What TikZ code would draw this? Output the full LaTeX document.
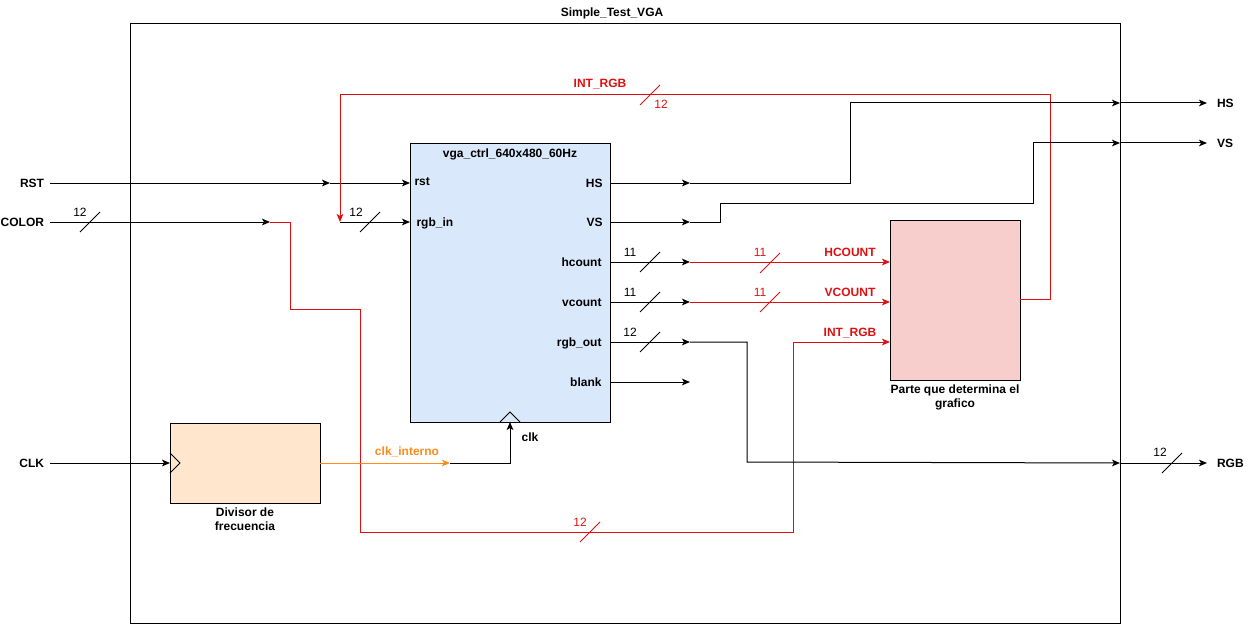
\documentclass[tikz,border=0pt]{standalone}
\usepackage{fontspec}
\setmainfont{Liberation Sans}
\usetikzlibrary{arrows.meta}
\definecolor{wred}{HTML}{E01010}
\definecolor{worange}{HTML}{FF8C1A}
\definecolor{vgafill}{HTML}{DAE8FC}
\definecolor{divfill}{HTML}{FFE6CC}
\definecolor{partefill}{HTML}{F8CECC}
\newcommand\busmark[2][black]{\draw[#1] (#2) ++(-10,10) -- ++(20,-20);}
\begin{document}
\begin{tikzpicture}[x=0.75pt,y=-0.75pt,line width=0.75pt,
  font=\fontsize{9}{10.5}\selectfont,
  blk/.style={draw, inner sep=0pt, anchor=north west},
  lbl/.style={font=\fontsize{9}{10.5}\selectfont\bfseries, inner sep=0pt, text height=6.5pt, text depth=0pt},
  num/.style={inner sep=0pt, text height=6.5pt, text depth=0pt},
  arr/.style={-{Stealth[length=6pt,width=5pt,inset=1.5pt]}},
  rarr/.style={arr, draw=wred, color=wred},
  oarr/.style={arr, draw=worange, color=worange},
  rline/.style={draw=wred}]
\useasboundingbox (0,0) rectangle (1251,624);

% frame
\node[blk, minimum width=742.5pt, minimum height=450pt] (frame) at (130,23) {};
\node[lbl] (title) at (612,12) {Simple\_Test\_VGA};

% vga block
\node[blk, fill=vgafill, minimum width=150pt, minimum height=209.25pt] (vga) at (410,143) {};
\node[lbl] (vgatitle) at (510,153) {vga\_ctrl\_640x480\_60Hz};
\draw (500,422) -- (510,412) -- (520,422);
\node[lbl, anchor=west] at (414,181) {rst};
\node[lbl, anchor=west] at (416,222) {rgb\_in};
\node[lbl, anchor=east] at (603,183) {HS};
\node[lbl, anchor=east] at (603,222) {VS};
\node[lbl, anchor=east] at (602,262) {hcount};
\node[lbl, anchor=east] at (602,302) {vcount};
\node[lbl, anchor=east] at (602,342) {rgb\_out};
\node[lbl, anchor=east] at (602,382) {blank};
\node[lbl] (clklbl) at (530,437) {clk};

% divisor block
\node[blk, fill=divfill, minimum width=112.5pt, minimum height=60pt] (div) at (170,423) {};
\draw (170,453) -- (180,463) -- (170,473);
\node[font=\fontsize{9}{10.5}\selectfont\bfseries, inner sep=0pt, align=center, anchor=north] (divlbl) at (245,507) {Divisor de\\frecuencia};

% parte block
\node[blk, fill=partefill, minimum width=97.5pt, minimum height=120pt] (parte) at (890,220) {};
\node[font=\fontsize{9}{10.5}\selectfont\bfseries, inner sep=0pt, align=center, anchor=north] (partelbl) at (955,384) {Parte que determina el\\grafico};

% ports
\coordinate (pRST) at (410,183);
\coordinate (pRGBin) at (410,222);
\coordinate (pHS) at (610,183);
\coordinate (pVS) at (610,222);
\coordinate (pHC) at (610,262);
\coordinate (pVC) at (610,302);
\coordinate (pRO) at (610,342);
\coordinate (pBL) at (610,382);
\coordinate (pCLK) at (510,422);
\coordinate (pDivIn) at (170,463);
\coordinate (pDivOut) at (320,463);
\coordinate (pPHC) at (890,262);
\coordinate (pPVC) at (890,302);
\coordinate (pPRGB) at (890,342);
\coordinate (pPOut) at (1020,299);
% junctions
\coordinate (jRST) at (330,183);
\coordinate (jCOL) at (270,222);
\coordinate (jRGBin) at (340,222);
\coordinate (jHS) at (690,183);
\coordinate (jVS) at (690,222);
\coordinate (jHC) at (690,262);
\coordinate (jVC) at (690,302);
\coordinate (jRO) at (690,342);
\coordinate (jBL) at (690,382);
\coordinate (jCLK) at (450,463);
\coordinate (oHS) at (1120,103);
\coordinate (oVS) at (1120,143);
\coordinate (oRGB) at (1120,463);

% external pins
\node[lbl, anchor=east, outer sep=4.5pt] (RST) at (50,183) {RST};
\node[lbl, anchor=east, outer sep=4.5pt] (COLOR) at (50,222) {COLOR};
\node[lbl, anchor=east, outer sep=4.5pt] (CLK) at (50,463) {CLK};
\node[lbl, anchor=west, outer sep=7.5pt] (HSo) at (1207,103) {HS};
\node[lbl, anchor=west, outer sep=7.5pt] (VSo) at (1207,143) {VS};
\node[lbl, anchor=west, outer sep=7.5pt] (RGBo) at (1207,463) {RGB};

% RST
\draw[arr] (RST.east) -- (jRST);
\draw[arr] (jRST) -- (pRST);
% COLOR
\draw[arr] (COLOR.east) -- (jCOL);
\busmark{90,222}
\node[num] at (80,212) {12};
\draw[rarr] (jCOL) -- (290,222) -- (290,309) -- (360,309) -- (360,532) -- (793,532) -- (793,342) -- (pPRGB);
\busmark[wred]{590,532}
\node[num, text=wred] at (580,522) {12};
\node[lbl, text=wred] at (850,332) {INT\_RGB};
% feedback INT_RGB
\draw[rarr] (pPOut) -- (1050,299) -- (1050,95) -- (340,95) -- (jRGBin);
\busmark[wred]{650,95}
\node[num, text=wred] at (661,104) {12};
\node[lbl, text=wred] at (600,83) {INT\_RGB};
\draw[arr] (jRGBin) -- (pRGBin);
\busmark{370,222}
\node[num] at (356,212) {12};
% HS
\draw[arr] (pHS) -- (jHS);
\draw[arr] (jHS) -- (850,183) -- (850,103) -- (oHS);
\draw[arr] (oHS) -- (HSo.west);
% VS
\draw[arr] (pVS) -- (jVS);
\draw[arr] (jVS) -- (720,222) -- (720,203) -- (1033,203) -- (1033,143) -- (oVS);
\draw[arr] (oVS) -- (VSo.west);
% hcount
\draw[arr] (pHC) -- (jHC);
\busmark{650,262}
\node[num] at (630,252) {11};
\draw[rarr] (jHC) -- (pPHC);
\busmark[wred]{770,263}
\node[num, text=wred] at (760,252) {11};
\node[lbl, text=wred] at (850,252) {HCOUNT};
% vcount
\draw[arr] (pVC) -- (jVC);
\busmark{650,302}
\node[num] at (630,292) {11};
\draw[rarr] (jVC) -- (pPVC);
\busmark[wred]{770,302}
\node[num, text=wred] at (760,292) {11};
\node[lbl, text=wred] at (850,292) {VCOUNT};
% rgb_out
\draw[arr] (pRO) -- (jRO);
\busmark{650,342}
\node[num] at (630,332) {12};
\draw[arr] (jRO) -- (747,342) -- (747,462) -- (oRGB);
\draw[arr] (oRGB) -- (RGBo.west);
\busmark{1172,463}
\node[num] at (1160,452) {12};
% blank
\draw[arr] (pBL) -- (jBL);
% CLK
\draw[arr] (CLK.east) -- (pDivIn);
\draw[oarr] (pDivOut) -- (jCLK);
\node[lbl, text=worange] at (407,451) {clk\_interno};
\draw[arr] (jCLK) -- (510,463) -- (pCLK);
\end{tikzpicture}
\end{document}
